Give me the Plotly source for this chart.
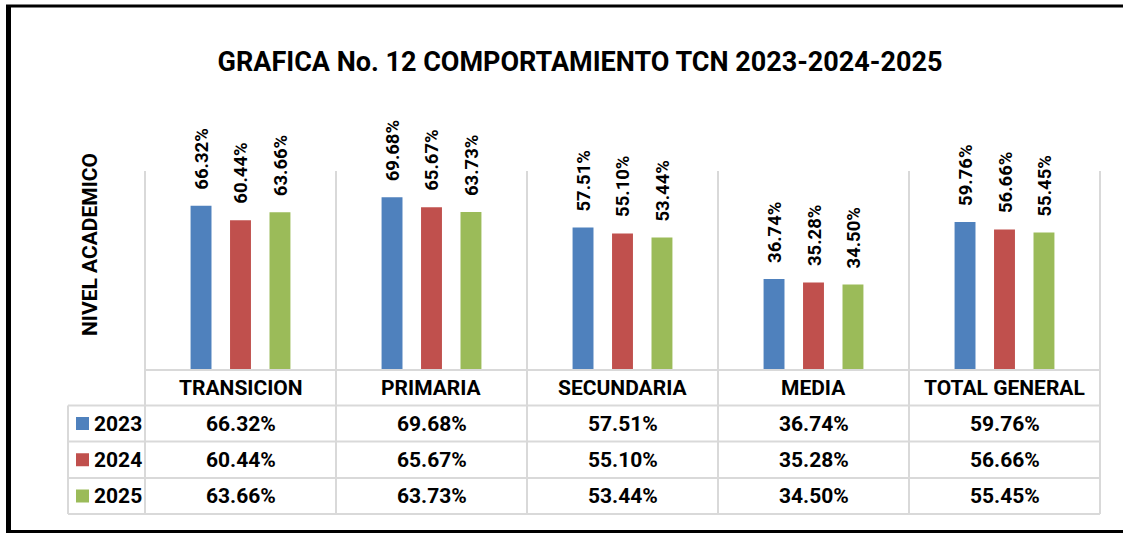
import plotly.graph_objects as go

categories = ["TRANSICION", "PRIMARIA", "SECUNDARIA", "MEDIA", "TOTAL GENERAL"]
series_names = ["2023", "2024", "2025"]
values_2023 = [66.32, 69.68, 57.51, 36.74, 59.76]
values_2024 = [60.44, 65.67, 55.10, 35.28, 56.66]
values_2025 = [63.66, 63.73, 53.44, 34.50, 55.45]
colors = ["#4F81BD", "#C0504D", "#9BBB59"]
title_text = "GRAFICA No. 12 COMPORTAMIENTO TCN 2023-2024-2025"
yaxis_title = "NIVEL ACADEMICO"

series_values = [values_2023, values_2024, values_2025]

W, H = 1123, 533
FONT = "Roboto, Liberation Sans, Arial, sans-serif"
GRID = "#d9d9d9"

def px(x):
    return x / W

def py(y):
    return 1 - y / H

# layout geometry (pixels)
plot_left, plot_right = 145, 1100
plot_top, plot_bottom = 171, 370
row_edges = [370, 405.5, 441.5, 478, 514]
legend_left = 68
col_w = (plot_right - plot_left) / len(categories)
bargap = 0.38
slot = col_w * (1 - bargap) / 3

fig = go.Figure()
for name, vals, col in zip(series_names, series_values, colors):
    fig.add_trace(go.Bar(
        x=categories, y=vals, name=name, marker=dict(color=col, line=dict(width=0)),
        showlegend=False, hoverinfo="x+y+name",
    ))

annotations = []
shapes = []

# value labels above bars
for i, (vals, name) in enumerate(zip(series_values, series_names)):
    for cat, v in zip(categories, vals):
        annotations.append(dict(
            x=cat, y=v, xref="x", yref="y", text=f"<b>{v:.2f}%</b>",
            showarrow=False, textangle=-90, xanchor="center", yanchor="bottom",
            xshift=(i - 1) * slot + 1, yshift=14,
            font=dict(family=FONT, size=18.5, color="black"),
        ))

# table header (category names)
hdr_y = py((row_edges[0] + row_edges[1]) / 2)
for cat in categories:
    annotations.append(dict(
        x=cat, y=hdr_y, xref="x", yref="paper", text=f"<b>{cat}</b>",
        showarrow=False, xanchor="center", yanchor="middle",
        font=dict(family=FONT, size=21, color="black"),
    ))

# table rows
for r, (name, vals, col) in enumerate(zip(series_names, series_values, colors)):
    top, bot = row_edges[r + 1], row_edges[r + 2]
    cy = py((top + bot) / 2)
    for cat, v in zip(categories, vals):
        annotations.append(dict(
            x=cat, y=cy, xref="x", yref="paper", text=f"<b>{v:.2f}%</b>",
            showarrow=False, xanchor="center", yanchor="middle",
            font=dict(family=FONT, size=21, color="black"),
        ))
    annotations.append(dict(
        x=px(92), y=cy, xref="paper", yref="paper", text=f"<b>{name}</b>",
        showarrow=False, xanchor="left", yanchor="middle",
        font=dict(family=FONT, size=21, color="black"),
    ))
    mid = (top + bot) / 2
    shapes.append(dict(type="rect", xref="paper", yref="paper",
                       x0=px(76), x1=px(89), y0=py(mid - 6.5), y1=py(mid + 6.5),
                       fillcolor=col, line=dict(width=0)))

# grid lines: vertical
for k in range(len(categories) + 1):
    x = plot_left + k * col_w
    shapes.append(dict(type="line", xref="paper", yref="paper",
                       x0=px(x), x1=px(x), y0=py(plot_top), y1=py(row_edges[-1]),
                       line=dict(color=GRID, width=2)))
shapes.append(dict(type="line", xref="paper", yref="paper",
                   x0=px(legend_left), x1=px(legend_left), y0=py(row_edges[1]), y1=py(row_edges[-1]),
                   line=dict(color=GRID, width=2)))
# horizontal
shapes.append(dict(type="line", xref="paper", yref="paper",
                   x0=px(plot_left), x1=px(plot_right), y0=py(row_edges[0]), y1=py(row_edges[0]),
                   line=dict(color=GRID, width=2)))
for e in row_edges[1:]:
    shapes.append(dict(type="line", xref="paper", yref="paper",
                       x0=px(legend_left), x1=px(plot_right), y0=py(e), y1=py(e),
                       line=dict(color=GRID, width=2)))

# outer border
shapes.append(dict(type="line", xref="paper", yref="paper", x0=px(6), x1=1, y0=py(6), y1=py(6),
                   line=dict(color="black", width=3)))
shapes.append(dict(type="line", xref="paper", yref="paper", x0=px(8.5), x1=px(8.5), y0=py(5), y1=py(533),
                   line=dict(color="black", width=5)))
shapes.append(dict(type="line", xref="paper", yref="paper", x0=px(6), x1=1, y0=py(531.5), y1=py(531.5),
                   line=dict(color="black", width=3)))

# y axis title
annotations.append(dict(
    x=px(90), y=py(245), xref="paper", yref="paper", text=f"<b>{yaxis_title}</b>",
    showarrow=False, textangle=-90, xanchor="center", yanchor="middle",
    font=dict(family=FONT, size=21, color="black"),
))

fig.update_layout(
    width=W, height=H,
    margin=dict(l=0, r=0, t=0, b=0),
    paper_bgcolor="white", plot_bgcolor="white",
    barmode="group", bargap=bargap, bargroupgap=0.47,
    title=dict(text=f"<b>{title_text}</b>", x=px(580), y=py(62), xanchor="center", yanchor="middle",
               font=dict(family=FONT, size=27, color="black")),
    xaxis=dict(domain=[px(plot_left), px(plot_right)], showticklabels=False, showgrid=False,
               zeroline=False, showline=False, ticks=""),
    yaxis=dict(domain=[py(plot_bottom), py(plot_top)], range=[0, 80.3], showticklabels=False,
               showgrid=False, zeroline=False, showline=False, ticks=""),
    annotations=annotations,
    shapes=shapes,
)

fig.write_html("out.html", config={"displayModeBar": False},
               post_script="document.body.style.margin='0';")
